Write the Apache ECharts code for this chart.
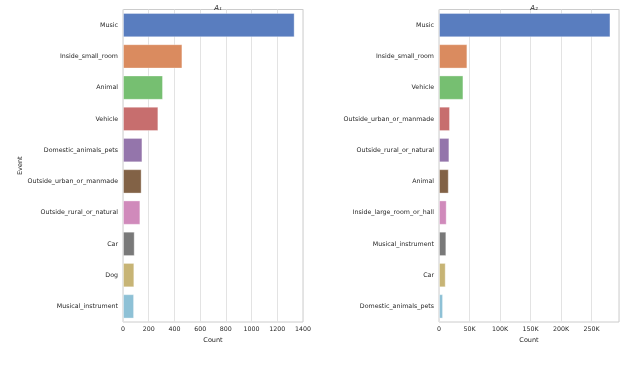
<!DOCTYPE html>
<html>
<head>
<meta charset="utf-8">
<script src="https://cdn.jsdelivr.net/npm/echarts@6/dist/echarts.min.js"></script>
<style>
  html, body { margin: 0; padding: 0; background: #fff; }
  #chart { width: 640px; height: 373px; }
</style>
</head>
<body>
<div id="chart"></div>
<script>
// A1 panel
const eventsA1 = ['Music', 'Inside_small_room', 'Animal', 'Vehicle', 'Domestic_animals_pets',
  'Outside_urban_or_manmade', 'Outside_rural_or_natural', 'Car', 'Dog', 'Musical_instrument'];
const countsA1 = [1335, 462, 311, 275, 151, 145, 135, 91, 88, 86];

// A2 panel
const eventsA2 = ['Music', 'Inside_small_room', 'Vehicle', 'Outside_urban_or_manmade',
  'Outside_rural_or_natural', 'Animal', 'Inside_large_room_or_hall', 'Musical_instrument',
  'Car', 'Domestic_animals_pets'];
const countsA2 = [281000, 46500, 40000, 18000, 17000, 16000, 12600, 12000, 11000, 6600];

const ticksA2 = [0, 50000, 100000, 150000, 200000, 250000];

// seaborn "muted" palette, desaturated like barplot does (0.75)
const muted = ['#4878d0', '#ee854a', '#6acc64', '#d65f5f', '#956cb4',
  '#8c613c', '#dc7ec0', '#797979', '#d5bb67', '#82c6e2'];

function desat(hex, f) {
  let r = parseInt(hex.slice(1, 3), 16) / 255,
      g = parseInt(hex.slice(3, 5), 16) / 255,
      b = parseInt(hex.slice(5, 7), 16) / 255;
  const mx = Math.max(r, g, b), mn = Math.min(r, g, b);
  const l = (mx + mn) / 2;
  if (mx === mn) return hex;
  const s = l > 0.5 ? (mx - mn) / (2 - mx - mn) : (mx - mn) / (mx + mn);
  const s2 = s * f;
  const c = (1 - Math.abs(2 * l - 1)) * s2;
  const nmn = l - c / 2;
  const conv = v => {
    const t = (v - mn) / (mx - mn);
    return Math.round((nmn + t * c) * 255);
  };
  return 'rgb(' + conv(r) + ',' + conv(g) + ',' + conv(b) + ')';
}
const colors = muted.map(c => desat(c, 0.75));

const font = 'DejaVu Sans';
const textColor = '#262626';

function mkX(gridIndex, max, fmt) {
  return {
    type: 'value', gridIndex, min: 0, max,
    interval: gridIndex === 0 ? 200 : 50000,
    name: 'Count', nameLocation: 'middle', nameGap: 13,
    nameTextStyle: { fontFamily: font, fontSize: 6.5, color: textColor },
    axisLine: { show: false },
    axisTick: { show: false },
    axisLabel: { fontFamily: font, fontSize: 6.3, color: textColor, margin: 4,
      showMaxLabel: gridIndex === 0, formatter: fmt },
    splitLine: { show: true, lineStyle: { color: '#e3e3e3', width: 1 } }
  };
}

function mkY(gridIndex, cats, withName) {
  return {
    type: 'category', gridIndex, data: cats, inverse: true,
    name: withName ? 'Event' : '', nameLocation: 'middle', nameGap: 96, nameRotate: 90,
    nameTextStyle: { fontFamily: font, fontSize: 6.5, color: textColor },
    axisLine: { show: false },
    axisTick: { show: false },
    axisLabel: { fontFamily: font, fontSize: 6.3, color: textColor, margin: 5 },
    splitLine: { show: false }
  };
}

function mkSeries(idx, vals) {
  return {
    type: 'bar', xAxisIndex: idx, yAxisIndex: idx,
    barCategoryGap: '22%',
    data: vals.map((v, i) => ({
      value: v,
      itemStyle: { color: colors[i], borderColor: 'rgba(255,255,255,0.35)', borderWidth: 1 }
    })),
    silent: true, animation: false
  };
}

const chart = echarts.init(document.getElementById('chart'), null, { renderer: 'canvas' });
chart.setOption({
  animation: false,
  backgroundColor: '#fff',
  title: [
    { text: 'A₁', left: 213, top: 0, textAlign: 'center',
      textStyle: { fontFamily: font, fontSize: 7, fontStyle: 'italic', fontWeight: 'normal', color: textColor } },
    { text: 'A₂', left: 529, top: 0, textAlign: 'center',
      textStyle: { fontFamily: font, fontSize: 7, fontStyle: 'italic', fontWeight: 'normal', color: textColor } }
  ],
  grid: [
    { left: 123, top: 9.5, width: 180, height: 312.5, show: true, borderColor: '#cccccc', borderWidth: 1 },
    { left: 439, top: 9.5, width: 180, height: 312.5, show: true, borderColor: '#cccccc', borderWidth: 1 }
  ],
  xAxis: [
    mkX(0, 1400, v => String(v)),
    mkX(1, 295000, v => (v === 0 ? '0' : (v / 1000) + 'K'))
  ],
  yAxis: [
    mkY(0, eventsA1, true),
    mkY(1, eventsA2, false)
  ],
  series: [
    mkSeries(0, countsA1),
    mkSeries(1, countsA2)
  ]
});
</script>
</body>
</html>
